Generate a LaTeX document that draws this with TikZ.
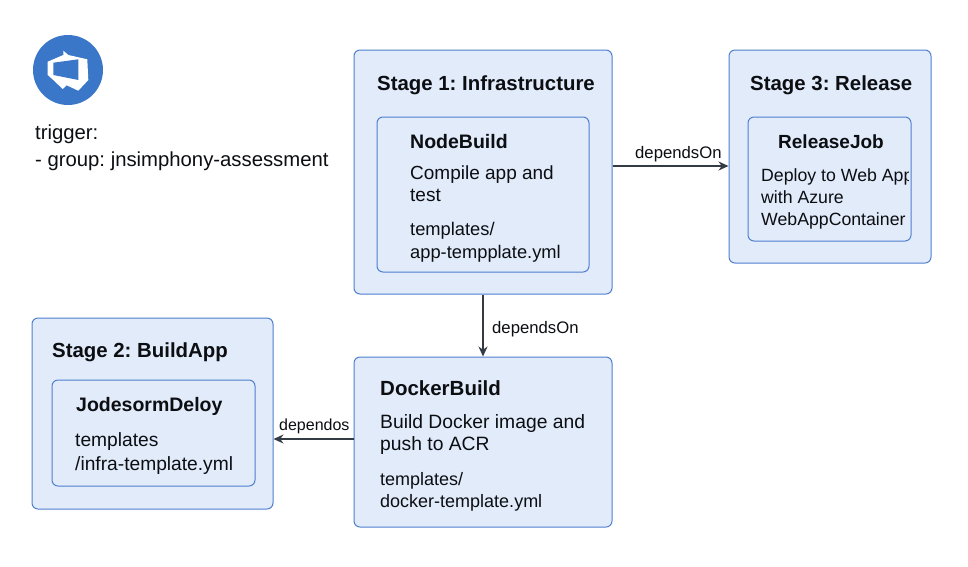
\documentclass[tikz,border=0pt]{standalone}
\usepackage{fontspec}
\setmainfont{Liberation Sans}
\usetikzlibrary{arrows.meta}
\definecolor{boxfill}{HTML}{E1EBFA}
\definecolor{boxline}{HTML}{4F7FCF}
\definecolor{inkc}{HTML}{0C0E12}
\definecolor{wire}{HTML}{333B45}
\definecolor{logoblue}{HTML}{3B77C8}
\frenchspacing
\tikzset{
  panel/.style={draw=boxline,fill=boxfill,line width=1pt,rounded corners=6pt,inner sep=0pt},
  stagetitle/.style={anchor=base west,inner sep=0pt,text=inkc,font=\bfseries\fontsize{20.4}{24}\selectfont},
  jobtitle/.style={anchor=base west,inner sep=0pt,text=inkc,font=\bfseries\fontsize{19.5}{22}\selectfont},
  bodytext/.style={anchor=north west,inner sep=0pt,align=left,text=inkc,font=\fontsize{19.2}{22}\selectfont},
  edgelabel/.style={anchor=base west,inner sep=0pt,text=inkc,font=\fontsize{16.7}{18}\selectfont},
  link/.style={draw=wire,line width=1.3pt,-{Stealth[length=10pt,width=9pt]}},
}
\begin{document}
\begin{tikzpicture}[x=1pt,y=-1pt]
\useasboundingbox (0,0) rectangle (968,566);
\fill[white] (0,0) rectangle (968,566);

% logo
\fill[logoblue] (68,70) circle (35);
\fill[white] (63.3,50.7) -- (68.3,55) -- (87.3,59.3) -- (88.3,80) -- (78.3,90.7) -- (66.7,85.3) -- (62.7,89) -- (53.3,80) -- (47.7,75) -- (47.7,61.7) -- (63.3,55) -- cycle;
\fill[logoblue] (53.3,62.7) -- (78.3,59.3) -- (78.3,80) -- (53.3,75) -- cycle;

\node[bodytext,font=\fontsize{20.3}{27}\selectfont] (trig) at (35,124.5) {trigger:\\- group: jnsimphony-assessment};

% panels
\node[panel,minimum width=258pt,minimum height=244pt] (s1) at (483,172) {};
\node[panel,minimum width=212pt,minimum height=155pt] (s1j) at (483,194.5) {};
\node[panel,minimum width=202pt,minimum height=213pt] (s3) at (830,156.5) {};
\node[panel,minimum width=163pt,minimum height=124pt] (s3j) at (829.5,179) {};
\node[panel,minimum width=241pt,minimum height=191pt] (s2) at (152.5,413.5) {};
\node[panel,minimum width=203pt,minimum height=106pt] (s2j) at (153.5,433) {};
\node[panel,minimum width=258pt,minimum height=170pt] (db) at (483,442) {};

% stage 1
\node[stagetitle] (s1t) at (377,90) {Stage 1: Infrastructure};
\node[jobtitle] (s1n) at (410,148) {NodeBuild};
\node[bodytext,font=\fontsize{19}{22}\selectfont] (s1d) at (410,165.5) {Compile app and\\test};
\node[bodytext,font=\fontsize{18.3}{23}\selectfont] (s1f) at (410,222) {templates/\\app-tempplate.yml};

% stage 3
\node[stagetitle] (s3t) at (750,90) {Stage 3: Release};
\node[jobtitle,font=\bfseries\fontsize{19}{22}\selectfont] (s3n) at (778,148) {ReleaseJob};
\begin{scope}
\clip (748,117) rectangle (908,241);
\node[bodytext,font=\fontsize{17.7}{22}\selectfont] (s3d) at (761,168) {Deploy to Web App\\with Azure\\WebAppContainer};
\end{scope}

% stage 2
\node[stagetitle] (s2t) at (52,357) {Stage 2: BuildApp};
\node[jobtitle] (s2n) at (76,411) {JodesormDeloy};
\node[bodytext,font=\fontsize{19.2}{24}\selectfont] (s2f) at (75,432) {templates\\/infra-template.yml};

% docker
\node[jobtitle,font=\bfseries\fontsize{20.5}{22}\selectfont] (dbn) at (380,395) {DockerBuild};
\node[bodytext,font=\fontsize{19.3}{22}\selectfont] (dbd) at (380,414) {Build Docker image and\\push to ACR};
\node[bodytext,font=\fontsize{18}{22}\selectfont] (dbf) at (380,472) {templates/\\docker-template.yml};

% connectors
\draw[link] ([yshift=6pt]s1.east) -- ([yshift=-9.5pt]s3.west);
\draw[link] (s1.south) -- (db.north);
\draw[link] ([yshift=3pt]db.west) -- ([yshift=-25.5pt]s2.east);
\node[edgelabel] (l1) at (635,158) {dependsOn};
\node[edgelabel] (l2) at (492,333) {dependsOn};
\node[edgelabel,font=\fontsize{16}{18}\selectfont] (l3) at (279,430) {dependos};
\end{tikzpicture}
\end{document}
